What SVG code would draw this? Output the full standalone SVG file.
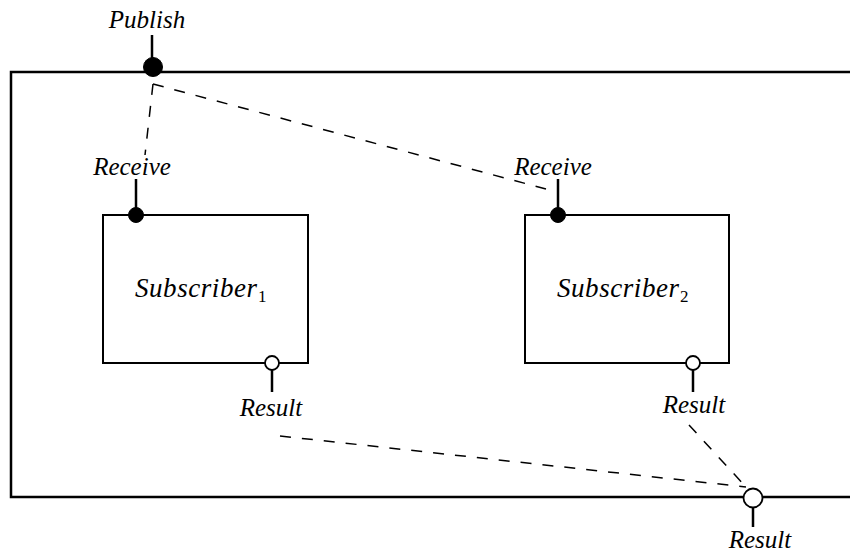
<svg xmlns="http://www.w3.org/2000/svg" width="850" height="558" viewBox="0 0 850 558">
<defs>
<style>
.frame{fill:none;stroke:#000;stroke-width:2.5}
.box{fill:#fff;stroke:#000;stroke-width:2}
.stub{stroke:#000;stroke-width:2.5}
.full{fill:#000;stroke:#000;stroke-width:1}
.hollow{fill:#fff;stroke:#000;stroke-width:1.8}
.dash{fill:none;stroke:#000;stroke-width:1.5;stroke-dasharray:11 11}
</style>
</defs>
<rect width="850" height="558" fill="#fff"/>
<g id="system">
<path class="frame" d="M852,72 H11 V497 H852"/>
</g>
<g id="connectors">
<path class="dash" d="M153,84 L145,155"/>
<path class="dash" d="M153,84 L546,189"/>
<path class="dash" d="M280,436 L746,487"/>
<path class="dash" d="M689,425 L746,487"/>
</g>
<g font-family="Liberation Serif, Times New Roman, serif" font-style="italic" fill="#000">
<g id="subscriber1">
<rect class="box" x="103" y="215" width="205" height="148"/>
<text x="135" y="297" font-size="27" textLength="122" lengthAdjust="spacing">Subscriber</text>
<text x="258" y="302" font-size="17" font-style="normal">1</text>
</g>
<g id="subscriber2">
<rect class="box" x="525" y="215" width="204" height="148"/>
<text x="557" y="297" font-size="27" textLength="122" lengthAdjust="spacing">Subscriber</text>
<text x="680" y="302" font-size="17" font-style="normal">2</text>
</g>
<g id="publish-port" font-size="25" text-anchor="middle">
<line class="stub" x1="152" y1="35" x2="152" y2="62"/>
<circle class="full" cx="153" cy="67" r="9.5"/>
<text x="147" y="28">Publish</text>
</g>
<g id="receive1-port" font-size="25" text-anchor="middle">
<line class="stub" x1="136" y1="179" x2="136" y2="210"/>
<circle class="full" cx="136" cy="215" r="7.5"/>
<text x="132" y="175">Receive</text>
</g>
<g id="receive2-port" font-size="25" text-anchor="middle">
<line class="stub" x1="558" y1="179" x2="558" y2="210"/>
<circle class="full" cx="558" cy="215" r="7.5"/>
<text x="553" y="175">Receive</text>
</g>
<g id="result1-port" font-size="25" text-anchor="middle">
<line class="stub" x1="272" y1="370" x2="272" y2="392"/>
<circle class="hollow" cx="272" cy="363" r="7"/>
<text x="271" y="416">Result</text>
</g>
<g id="result2-port" font-size="25" text-anchor="middle">
<line class="stub" x1="693" y1="370" x2="693" y2="392"/>
<circle class="hollow" cx="693" cy="363" r="7"/>
<text x="694" y="413">Result</text>
</g>
<g id="result-port" font-size="25" text-anchor="middle">
<line class="stub" x1="753" y1="508" x2="753" y2="527"/>
<circle class="hollow" cx="753" cy="498" r="9.5"/>
<text x="760" y="548">Result</text>
</g>
</g>
</svg>
